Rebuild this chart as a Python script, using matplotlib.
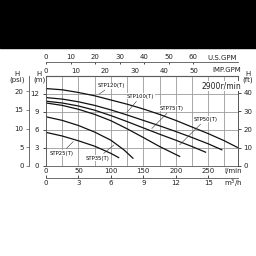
import numpy as np
import matplotlib.pyplot as plt
from matplotlib.patches import Rectangle

# flow in l/min, head in m
q_120 = [0, 25, 50, 75, 100, 125, 150, 175, 200, 225, 250, 275, 295]
h_120 = [12.9, 12.7, 12.25, 11.7, 11.0, 10.3, 9.5, 8.6, 7.6, 6.5, 5.4, 4.2, 3.1]
q_100 = [0, 25, 50, 75, 100, 125, 150, 175, 200, 225, 250, 271]
h_100 = [11.4, 11.15, 10.7, 10.1, 9.35, 8.5, 7.6, 6.7, 5.75, 4.75, 3.7, 2.7]
q_75 = [0, 25, 50, 75, 100, 125, 150, 175, 200, 225, 246]
h_75 = [10.8, 10.5, 10.0, 9.3, 8.4, 7.4, 6.35, 5.3, 4.3, 3.25, 2.3]
q_50 = [0, 25, 50, 75, 100, 125, 150, 175, 206]
h_50 = [10.5, 10.1, 9.45, 8.6, 7.55, 6.2, 4.75, 3.25, 1.6]
q_35 = [0, 25, 50, 75, 100, 120, 134]
h_35 = [8.2, 7.6, 6.75, 5.65, 4.3, 2.7, 1.3]
q_25 = [0, 25, 50, 75, 100, 112]
h_25 = [5.6, 5.0, 4.2, 3.3, 2.1, 1.4]

fig = plt.figure(figsize=(2.56, 2.56), dpi=100)
fig.patches.append(Rectangle((0, 0.8125), 1, 0.1875, transform=fig.transFigure,
                             color="black", zorder=0))

ax = fig.add_axes([0.1797, 0.3516, 0.75, 0.3516])
ax.set_xlim(0, 296)
ax.set_ylim(0, 14.8)
fs = 5
tc = "#222222"

ax.set_xticks(np.arange(0, 251, 50))
ax.set_xticks(np.arange(25, 296, 25), minor=True)
ax.set_yticks(np.arange(0, 13, 3))
ax.set_yticks([15], minor=True)
ax.grid(which="both", color="#9a9a9a", lw=0.6)
ax.tick_params(axis="x", which="both", length=0, labelsize=fs, pad=1.5, labelcolor=tc)
ax.tick_params(axis="y", which="major", length=2, width=0.5, labelsize=fs, pad=3,
               labelcolor=tc)
ax.tick_params(axis="y", which="minor", length=0)
for s in ax.spines.values():
    s.set_linewidth(0.6)
    s.set_color("#555555")

for q, h in [(q_120, h_120), (q_100, h_100), (q_75, h_75), (q_50, h_50),
             (q_35, h_35), (q_25, h_25)]:
    ax.plot(q, h, color="#111111", lw=0.9)

# secondary scales
ft = ax.secondary_yaxis("right", functions=(lambda m: m / 0.3048, lambda f: f * 0.3048))
ft.set_yticks(np.arange(0, 41, 10))
ft.tick_params(length=2, width=0.5, labelsize=fs, pad=2, labelcolor=tc)
ft.spines["right"].set_linewidth(0.6)
ft.spines["right"].set_color("#555555")

psi = ax.secondary_yaxis(-0.088, functions=(lambda m: m * 1.605, lambda p: p / 1.605))
psi.set_yticks(np.arange(0, 21, 5))
psi.tick_params(length=2, width=0.5, labelsize=fs, pad=2, color="#555555", labelcolor=tc)
psi.spines["left"].set_linewidth(0.6)
psi.spines["left"].set_color("#555555")

imp = ax.secondary_xaxis("top", functions=(lambda l: l / 4.546, lambda g: g * 4.546))
imp.set_xticks(np.arange(0, 51, 10))
imp.tick_params(length=0, labelsize=fs, pad=1.5, labelcolor=tc)

us = ax.secondary_xaxis(1.155, functions=(lambda l: l / 3.785, lambda g: g * 3.785))
us.set_xticks(np.arange(0, 61, 10))
us.tick_params(length=1.5, width=0.5, direction="in", labelsize=fs, pad=1.5, labelcolor=tc)
us.spines["top"].set_linewidth(0.6)
us.spines["top"].set_color("#555555")

m3 = ax.secondary_xaxis(-0.128, functions=(lambda l: l * 0.06, lambda c: c / 0.06))
m3.set_xticks(np.arange(0, 16, 3))
m3.tick_params(length=2, width=0.5, direction="in", labelsize=fs, pad=2, labelcolor=tc)
m3.spines["bottom"].set_linewidth(0.6)
m3.spines["bottom"].set_color("#555555")

# unit labels
fig.text(222 / 256, 1 - 58 / 256, "U.S.GPM", fontsize=fs, ha="center", va="center", color=tc)
fig.text(227 / 256, 1 - 70 / 256, "IMP.GPM", fontsize=fs, ha="center", va="center", color=tc)
fig.text(233 / 256, 1 - 171.5 / 256, "l/min", fontsize=fs, ha="center", va="center", color=tc)
fig.text(233 / 256, 1 - 184 / 256, "m$^3$/h", fontsize=fs, ha="center", va="center", color=tc)
fig.text(17 / 256, 1 - 77 / 256, "H\n(psi)", fontsize=fs, ha="center", va="center",
         linespacing=1.0, color=tc)
fig.text(39 / 256, 1 - 77 / 256, "H\n(m)", fontsize=fs, ha="center", va="center",
         linespacing=1.0, color=tc)
fig.text(248 / 256, 1 - 77 / 256, "H\n(ft)", fontsize=fs, ha="center", va="center",
         linespacing=1.0, color=tc)
ax.text(271, 13.3, "2900r/min", fontsize=5.5, ha="center", va="center", color=tc,
        bbox=dict(facecolor="white", edgecolor="none", pad=0.5))

lead = dict(arrowstyle="-", lw=0.4, color="#333333")
box = dict(facecolor="white", edgecolor="none", pad=0.3)
ax.annotate("STP120(T)", xy=(78, 11.7), xytext=(101, 13.4), fontsize=3.8,
            ha="center", va="center", arrowprops=lead, bbox=box)
ax.annotate("STP100(T)", xy=(122, 8.6), xytext=(146, 11.6), fontsize=3.8,
            ha="center", va="center", arrowprops=lead, bbox=box)
ax.annotate("STP75(T)", xy=(160, 5.9), xytext=(194, 9.6), fontsize=3.8,
            ha="center", va="center", arrowprops=lead, bbox=box)
ax.annotate("STP50(T)", xy=(203, 3.2), xytext=(246, 7.8), fontsize=3.8,
            ha="center", va="center", arrowprops=lead, bbox=box)
ax.annotate("STP35(T)", xy=(108, 3.8), xytext=(80, 1.3), fontsize=3.8,
            ha="center", va="center", arrowprops=lead, bbox=box)
ax.annotate("STP25(T)", xy=(45, 4.4), xytext=(24, 2.1), fontsize=3.8,
            ha="center", va="center", arrowprops=lead, bbox=box)

fig.savefig("out.png", dpi=100, facecolor="white")
